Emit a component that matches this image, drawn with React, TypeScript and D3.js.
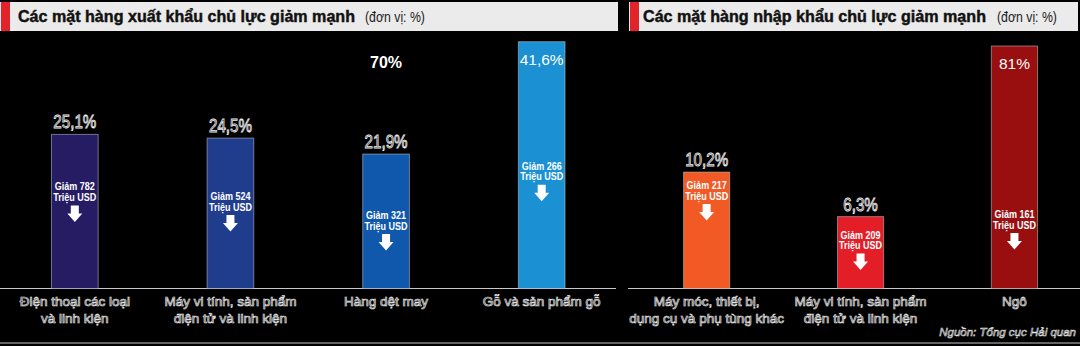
import React, { useEffect } from "react";
import * as d3 from "d3";

// ---------- data ----------
const exportCategories = [
  "Điện thoại các loại\nvà linh kiện",
  "Máy vi tính, sản phẩm\nđiện tử và linh kiện",
  "Hàng dệt may",
  "Gỗ và sản phẩm gỗ",
];
const exportShare = [25.1, 24.5, 21.9, 41.6];
const exportDrop = [782, 524, 321, 266];

const importCategories = [
  "Máy móc, thiết bị,\ndụng cụ và phụ tùng khác",
  "Máy vi tính, sản phẩm\nđiện tử và linh kiện",
  "Ngô",
];
const importShare = [10.2, 6.3, 81];
const importDrop = [217, 209, 161];

const exportTitle = "Các mặt hàng xuất khẩu chủ lực giảm mạnh";
const importTitle = "Các mặt hàng nhập khẩu chủ lực giảm mạnh";
const unitLabel = "(đơn vị: %)";
const strayLabel = { category: "Hàng dệt may", text: "70%" };
const sourceLabel = "Nguồn: Tổng cục Hải quan";

// ---------- styles / layout ----------
const exportColors = ["#251c63", "#1f3c8d", "#0f58ab", "#1b90d2"];
const importColors = ["#f15a24", "#e31e26", "#990f10"];

const W = 1080;
const H = 346;
const BASE = 288.5;
const SANS = "'Liberation Sans', Arial, Helvetica, sans-serif";
const NARROW_SCALE = 0.82;

const panels = [
  {
    title: exportTitle,
    cats: exportCategories,
    share: exportShare,
    drop: exportDrop,
    colors: exportColors,
    band: [-3, 619.5],
    yMax: 40.2,
    yTop: 41.7,
    header: [0, 618],
    titleX: 18,
    titleW: 337,
    unitX: 365,
    axis: [0, 616],
    noteOffset: [56, 62, 65, 128],
  },
  {
    title: importTitle,
    cats: importCategories,
    share: importShare,
    drop: importDrop,
    colors: importColors,
    band: [629.7, 1091.4],
    yMax: 21.25,
    yTop: 46,
    header: [629, 1078],
    titleX: 643,
    titleW: 343,
    unitX: 997,
    axis: [628, 1080],
    noteOffset: [17, 22, 172],
  },
];

const fmtPct = (v: number) => String(v).replace(".", ",") + "%";

function arrowPath(cx: number, top: number) {
  const sw = 4, sh = 8, hw = 7.5, hh = 8.5;
  return `M${cx - sw},${top}H${cx + sw}V${top + sh}H${cx + hw}L${cx},${top + sh + hh}L${cx - hw},${top + sh}H${cx - sw}Z`;
}

// text in a condensed look: regular sans squeezed horizontally
function NText({
  x,
  y,
  anchor = "middle",
  children,
  ...rest
}: {
  x: number;
  y: number;
  anchor?: string;
  children: React.ReactNode;
  [k: string]: any;
}) {
  return (
    <text
      transform={`translate(${x},${y}) scale(${NARROW_SCALE},1)`}
      textAnchor={anchor}
      fontFamily={SANS}
      {...rest}
    >
      {children}
    </text>
  );
}

function Panel({ p }: { p: (typeof panels)[number] }) {
  const x = d3
    .scaleBand<string>()
    .domain(p.cats)
    .range(p.band as [number, number])
    .paddingInner(0.7)
    .paddingOuter(0.35);
  const y = d3.scaleLinear().domain([0, p.yMax]).range([BASE, p.yTop]).clamp(true);
  const bw = x.bandwidth();
  const [h0, h1] = p.header;

  return (
    <g>
      {/* header */}
      <rect x={h0} y={2} width={h1 - h0} height={29} fill="#ebebeb" />
      <rect x={h0 + 1} y={2} width={9} height={29} fill="#e3232a" />
      <text
        x={p.titleX}
        y={21.5}
        fontFamily={SANS}
        fontWeight={700}
        fontSize={16.5}
        fill="#111"
        stroke="#111"
        strokeWidth={0.45}
        textLength={p.titleW}
        lengthAdjust="spacingAndGlyphs"
      >
        {p.title}
      </text>
      <NText x={p.unitX} y={21.5} anchor="start" fontSize={15} fill="#222">
        {unitLabel}
      </NText>

      {/* axis line */}
      <line x1={p.axis[0]} x2={p.axis[1]} y1={BASE} y2={BASE} stroke="#c8c8c8" strokeWidth={1} />

      {p.cats.map((c, i) => {
        const v = p.share[i];
        const x0 = x(c)!;
        const cx = x0 + bw / 2;
        const top = y(v);
        const clipped = v > p.yMax;
        const n1 = top + p.noteOffset[i];
        const lines = c.split("\n");
        return (
          <g key={c}>
            <rect
              x={x0}
              y={top}
              width={bw}
              height={BASE - top}
              fill={p.colors[i]}
              stroke="#cfd3e0"
              strokeOpacity={0.5}
              strokeWidth={1}
            />
            {clipped ? (
              <text x={cx} y={top + 23} textAnchor="middle" fontFamily={SANS} fontSize={15.5} fill="#fff">
                {fmtPct(v)}
              </text>
            ) : (
              <NText
                x={cx}
                y={top - 6}
                fontSize={18.5}
                fill="#1a1a1a"
                stroke="#ececec"
                strokeWidth={0.85}
              >
                {fmtPct(v)}
              </NText>
            )}
            <NText x={cx} y={n1} fontWeight={700} fontSize={11} fill="#fff">
              {`Giảm ${p.drop[i]}`}
            </NText>
            <NText x={cx} y={n1 + 10.5} fontWeight={700} fontSize={11} fill="#fff">
              Triệu USD
            </NText>
            <path d={arrowPath(cx, n1 + 15)} fill="#fff" />
            {lines.map((l, k) => (
              <text
                key={k}
                x={cx}
                y={306 + k * 17}
                textAnchor="middle"
                fontFamily={SANS}
                fontSize={13.5}
                fill="#111"
                stroke="#e4e4e4"
                strokeWidth={0.7}
              >
                {l}
              </text>
            ))}
          </g>
        );
      })}
      {p.cats.includes(strayLabel.category) && (
        <text
          x={x(strayLabel.category)! + bw / 2}
          y={68}
          textAnchor="middle"
          fontFamily={SANS}
          fontWeight={700}
          fontSize={16}
          fill="#fff"
        >
          {strayLabel.text}
        </text>
      )}
    </g>
  );
}

export default function App() {
  useEffect(() => {
    document.body.style.margin = "0";
  }, []);
  return (
    <svg
      width={W}
      height={H}
      viewBox={`0 0 ${W} ${H}`}
      style={{ position: "absolute", left: 0, top: 0, display: "block", background: "#000" }}
    >
      <rect x={0} y={0} width={W} height={H} fill="#000" />
      {panels.map((p, i) => (
        <Panel key={i} p={p} />
      ))}
      <text
        x={1076}
        y={336}
        textAnchor="end"
        fontFamily={SANS}
        fontStyle="italic"
        fontSize={11.5}
        fill="#111"
        stroke="#e4e4e4"
        strokeWidth={0.6}
      >
        {sourceLabel}
      </text>
      <line x1={0} x2={W} y1={343} y2={343} stroke="#c8c8c8" strokeWidth={1} />
    </svg>
  );
}
